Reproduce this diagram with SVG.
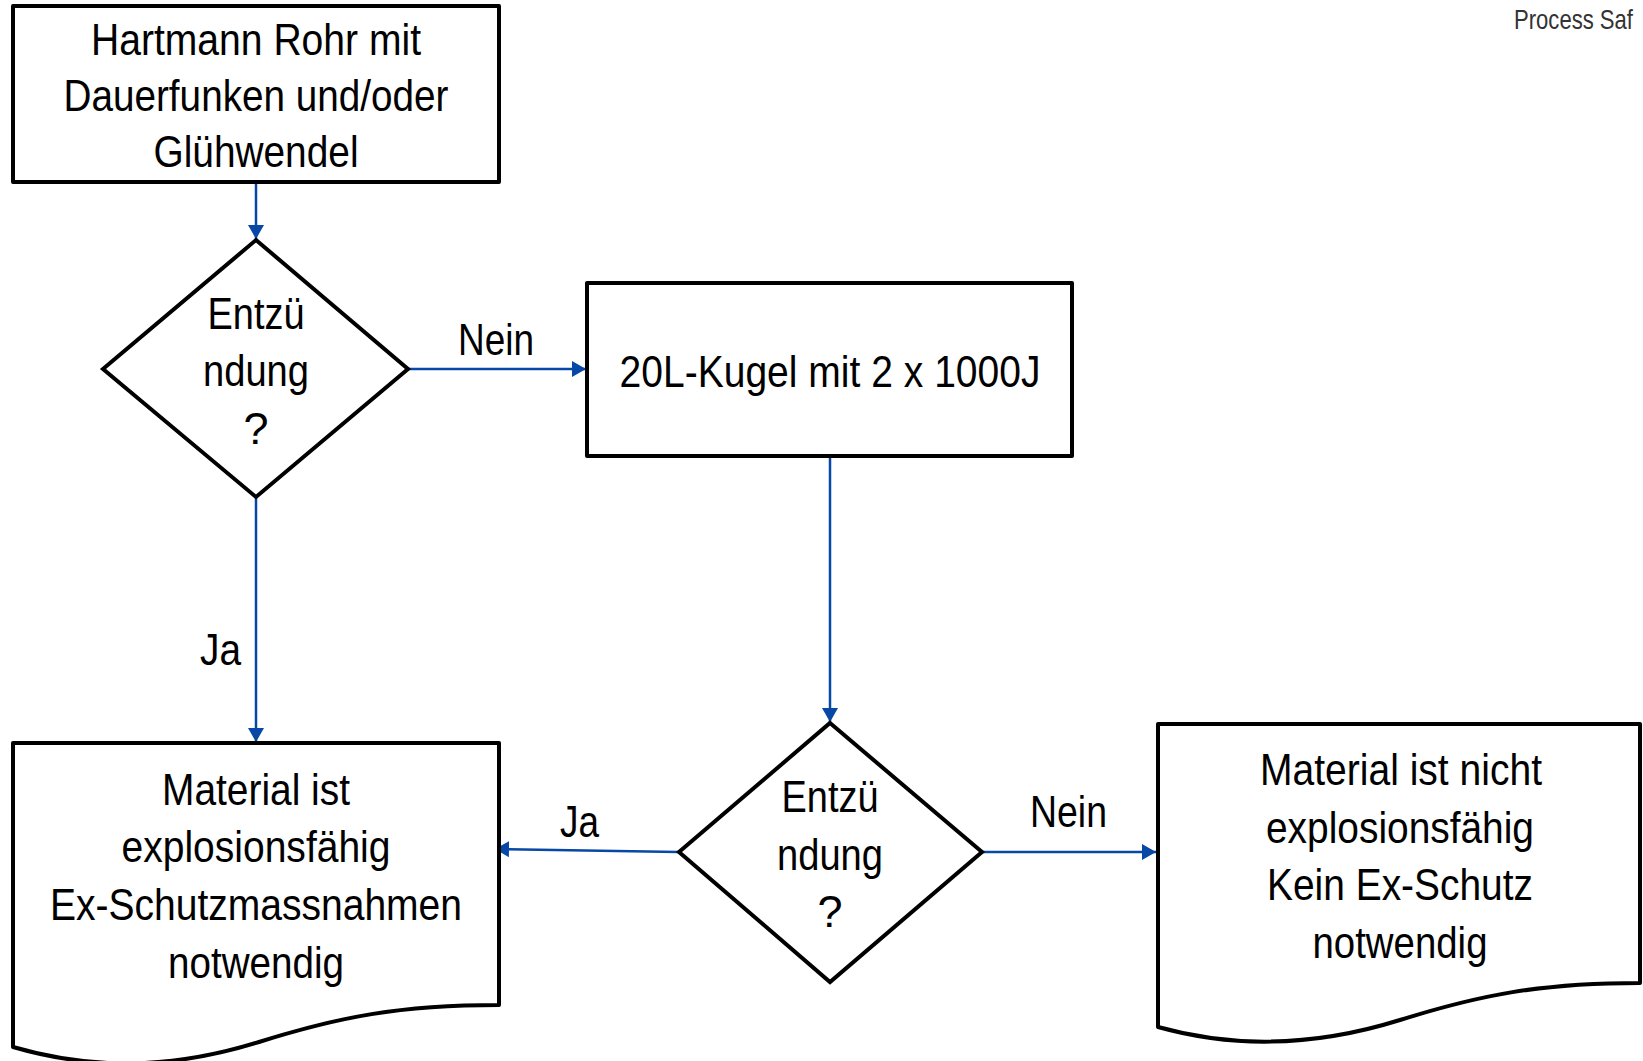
<svg xmlns="http://www.w3.org/2000/svg" width="1643" height="1061" viewBox="0 0 1643 1061">
  <style>
    .shape { fill: #ffffff; stroke: #000000; stroke-width: 4; stroke-linejoin: round; }
    .diamond { fill: #ffffff; stroke: #000000; stroke-width: 4; stroke-linejoin: miter; }
    .lbl { font-family: "Liberation Sans", Arial, sans-serif; font-size: 45px; fill: #000000; text-anchor: middle; }
    .edge { font-family: "Liberation Sans", Arial, sans-serif; font-size: 45px; fill: #000000; }
    .conn { fill: none; stroke: #0747a6; stroke-width: 2.5; marker-end: url(#arrow); }
    .corner { font-family: "Liberation Sans", Arial, sans-serif; font-size: 28px; fill: #333333; }
  </style>
  <defs>
    <marker id="arrow" markerUnits="userSpaceOnUse" markerWidth="16" markerHeight="16" refX="14" refY="8" orient="auto">
      <path d="M0,0 L14,8 L0,16 Z" fill="#0747a6"/>
    </marker>
  </defs>

  <rect width="1643" height="1061" fill="#ffffff"/>

  <text class="corner" x="1514" y="29" textLength="119" lengthAdjust="spacingAndGlyphs">Process Saf</text>

  <!-- connectors -->
  <g id="connectors">
    <line class="conn" x1="256" y1="182" x2="256" y2="239"/>
    <line class="conn" x1="408" y1="369" x2="586" y2="369"/>
    <line class="conn" x1="256" y1="497" x2="256" y2="742"/>
    <line class="conn" x1="830" y1="456" x2="830" y2="722"/>
    <line class="conn" x1="678" y1="852" x2="495" y2="849"/>
    <line class="conn" x1="982" y1="852" x2="1156" y2="852"/>
    <text class="edge" x="458" y="355" textLength="76" lengthAdjust="spacingAndGlyphs">Nein</text>
    <text class="edge" x="200" y="665" textLength="41" lengthAdjust="spacingAndGlyphs">Ja</text>
    <text class="edge" x="560" y="837" textLength="39" lengthAdjust="spacingAndGlyphs">Ja</text>
    <text class="edge" x="1030" y="827" textLength="77" lengthAdjust="spacingAndGlyphs">Nein</text>
  </g>

  <!-- start: Hartmann tube -->
  <g id="start">
    <rect class="shape" x="13" y="6" width="486" height="176"/>
    <text class="lbl" x="256" y="55" textLength="330" lengthAdjust="spacingAndGlyphs">Hartmann Rohr mit</text>
    <text class="lbl" x="256" y="111" textLength="385" lengthAdjust="spacingAndGlyphs">Dauerfunken und/oder</text>
    <text class="lbl" x="256" y="167" textLength="205" lengthAdjust="spacingAndGlyphs">Glühwendel</text>
  </g>

  <!-- first ignition decision -->
  <g id="decision1">
    <polygon class="diamond" points="256,240 408,369 256,497 103,369"/>
    <text class="lbl" x="256" y="329" textLength="97" lengthAdjust="spacingAndGlyphs">Entzü</text>
    <text class="lbl" x="256" y="386" textLength="106" lengthAdjust="spacingAndGlyphs">ndung</text>
    <text class="lbl" x="256" y="444">?</text>
  </g>

  <!-- 20 L sphere test -->
  <g id="sphere">
    <rect class="shape" x="587" y="283" width="485" height="173"/>
    <text class="lbl" x="830" y="387" textLength="421" lengthAdjust="spacingAndGlyphs">20L-Kugel mit 2 x 1000J</text>
  </g>

  <!-- second ignition decision -->
  <g id="decision2">
    <polygon class="diamond" points="830,723 982,852 830,982 679,852"/>
    <text class="lbl" x="830" y="812" textLength="97" lengthAdjust="spacingAndGlyphs">Entzü</text>
    <text class="lbl" x="830" y="870" textLength="106" lengthAdjust="spacingAndGlyphs">ndung</text>
    <text class="lbl" x="830" y="927">?</text>
  </g>

  <!-- result: explosive -->
  <g id="result-explosive">
    <path class="shape" d="M13,743 H499 V1005 C399,1005 339,1017 259,1042 C179,1067 99,1072 13,1047 Z"/>
    <text class="lbl" x="256" y="805" textLength="188" lengthAdjust="spacingAndGlyphs">Material ist</text>
    <text class="lbl" x="256" y="862" textLength="269" lengthAdjust="spacingAndGlyphs">explosionsfähig</text>
    <text class="lbl" x="256" y="920" textLength="412" lengthAdjust="spacingAndGlyphs">Ex-Schutzmassnahmen</text>
    <text class="lbl" x="256" y="978" textLength="176" lengthAdjust="spacingAndGlyphs">notwendig</text>
  </g>

  <!-- result: not explosive -->
  <g id="result-safe">
    <path class="shape" d="M1158,724 H1640 V983 C1540,983 1480,995 1400,1020 C1320,1045 1240,1050 1158,1027 Z"/>
    <text class="lbl" x="1401" y="785" textLength="282" lengthAdjust="spacingAndGlyphs">Material ist nicht</text>
    <text class="lbl" x="1400" y="843" textLength="268" lengthAdjust="spacingAndGlyphs">explosionsfähig</text>
    <text class="lbl" x="1400" y="900" textLength="266" lengthAdjust="spacingAndGlyphs">Kein Ex-Schutz</text>
    <text class="lbl" x="1400" y="958" textLength="175" lengthAdjust="spacingAndGlyphs">notwendig</text>
  </g>
</svg>
